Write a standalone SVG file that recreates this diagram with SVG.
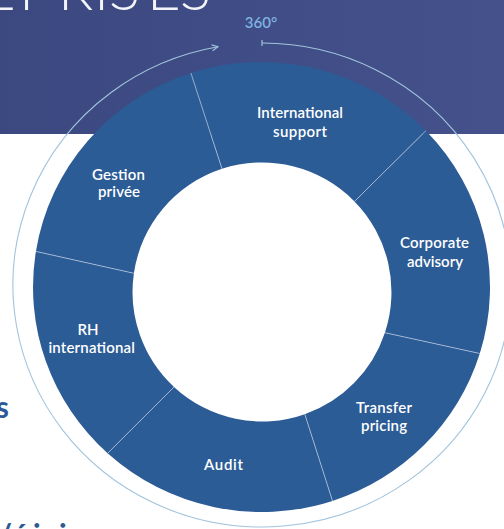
<svg xmlns="http://www.w3.org/2000/svg" width="504" height="529" viewBox="0 0 504 529">
  <defs>
    <style>
      .seg { fill: #2c5c96; }
      .lbl { font-family: Lato, "Open Sans", "Liberation Sans", sans-serif; font-weight: 600; font-size: 15px; fill: #ffffff; text-anchor: middle; }
      .divider { stroke: #b3c4df; stroke-width: 1; opacity: 0.8; }
      .ring { fill: none; stroke: #a2c4dc; stroke-width: 1.1; }
      .title { font-family: Lato, "Open Sans", "Liberation Sans", sans-serif; font-weight: 300; font-size: 58px; fill: #f2f4fa; }
      .side { font-family: Lato, "Open Sans", "Liberation Sans", sans-serif; font-weight: 700; font-size: 30px; fill: #2b5a96; }
    </style>
    <linearGradient id="bandFill" x1="0" y1="0" x2="1" y2="0">
      <stop offset="0" stop-color="#3c4880"/>
      <stop offset="1" stop-color="#44518b"/>
    </linearGradient>
    <marker id="arrowOpen" viewBox="0 0 8 8" refX="7" refY="4" markerWidth="8" markerHeight="8" markerUnits="userSpaceOnUse" orient="auto">
      <path d="M1,1 L7,4 L1,7" fill="none" stroke="#a2c4dc" stroke-width="1.1"/>
    </marker>
    <marker id="tickStart" viewBox="0 0 4 8" refX="2" refY="4" markerWidth="4" markerHeight="8" markerUnits="userSpaceOnUse" orient="auto">
      <path d="M2,1 V7" fill="none" stroke="#a2c4dc" stroke-width="1.2"/>
    </marker>
  </defs>

  <!-- page background and header band -->
  <rect x="0" y="0" width="504" height="529" fill="#ffffff"/>
  <rect x="0" y="0" width="504" height="134" fill="url(#bandFill)"/>

  <!-- header title, cropped at the top edge -->
  <text class="title" y="10"><tspan x="-18">E</tspan><tspan x="19">P</tspan><tspan x="58">R</tspan><tspan x="94">I</tspan><tspan x="109">S</tspan><tspan x="147">E</tspan><tspan x="180">S</tspan></text>

  <!-- side text fragments -->
  <text class="side" x="9" y="418" text-anchor="end">s</text>
  <text class="side" y="546"><tspan x="-2">/</tspan><tspan x="12">é</tspan><tspan x="33">i</tspan><tspan x="59">i</tspan></text>

  <!-- segments of the ring -->
  <g id="node-international-support">
    <path class="seg" d="M190.9,73.0 A228.5,225 0 0 1 425.9,130.7 L354.5,201.4 A129.5,129.5 0 0 0 222.0,168.8 Z"/>
    <text class="lbl" x="300" y="118" textLength="86" lengthAdjust="spacing">International</text>
    <text class="lbl" x="300" y="137" textLength="54" lengthAdjust="spacing">support</text>
  </g>
  <g id="node-corporate-advisory">
    <path class="seg" d="M425.9,130.7 A228.5,225 0 0 1 479.8,353.5 L384.9,332.7 A129.5,129.5 0 0 0 354.5,201.4 Z"/>
    <text class="lbl" x="434.5" y="248" textLength="69" lengthAdjust="spacing">Corporate</text>
    <text class="lbl" x="435" y="267" textLength="56" lengthAdjust="spacing">advisory</text>
  </g>
  <g id="node-transfer-pricing">
    <path class="seg" d="M479.8,353.5 A228.5,225 0 0 1 332.5,500.9 L304.8,414.2 A129.5,129.5 0 0 0 384.9,332.7 Z"/>
    <text class="lbl" x="384" y="413" textLength="56" lengthAdjust="spacing">Transfer</text>
    <text class="lbl" x="384" y="431" textLength="46" lengthAdjust="spacing">pricing</text>
  </g>
  <g id="node-audit">
    <path class="seg" d="M332.5,500.9 A228.5,225 0 0 1 107.6,453.3 L174.0,387.0 A129.5,129.5 0 0 0 304.8,414.2 Z"/>
    <text class="lbl" x="223.5" y="470" textLength="39" lengthAdjust="spacing">Audit</text>
  </g>
  <g id="node-rh-international">
    <path class="seg" d="M107.6,453.3 A228.5,225 0 0 1 35.9,251.4 L133.9,273.3 A129.5,129.5 0 0 0 174.0,387.0 Z"/>
    <text class="lbl" x="88" y="335">RH</text>
    <text class="lbl" x="91.7" y="353" textLength="86.5" lengthAdjust="spacing">international</text>
  </g>
  <g id="node-gestion-privee">
    <path class="seg" d="M35.9,251.4 A228.5,225 0 0 1 190.9,73.0 L222.0,168.8 A129.5,129.5 0 0 0 133.9,273.3 Z"/>
    <text class="lbl" x="118.4" y="180" textLength="53" lengthAdjust="spacing">Gestion</text>
    <text class="lbl" x="119" y="196.7" textLength="42" lengthAdjust="spacing">privée</text>
  </g>

  <!-- thin borders between segments -->
  <g id="dividers">
    <line class="divider" x1="190.9" y1="73.0" x2="222.0" y2="168.8"/>
    <line class="divider" x1="425.9" y1="130.7" x2="354.5" y2="201.4"/>
    <line class="divider" x1="479.8" y1="353.5" x2="384.9" y2="332.7"/>
    <line class="divider" x1="332.5" y1="500.9" x2="304.8" y2="414.2"/>
    <line class="divider" x1="107.6" y1="453.3" x2="174.0" y2="387.0"/>
    <line class="divider" x1="35.9" y1="251.4" x2="133.9" y2="273.3"/>
  </g>

  <!-- outer 360° cycle arrow -->
  <g id="connectors">
    <path class="ring" d="M262,43 A249,242 0 1 1 218,46.8" marker-start="url(#tickStart)" marker-end="url(#arrowOpen)"/>
    <text x="261" y="28" font-family="Lato, 'Open Sans', 'Liberation Sans', sans-serif" font-weight="600" font-size="15" fill="#7fb2e0" text-anchor="middle">360°</text>
  </g>
</svg>
